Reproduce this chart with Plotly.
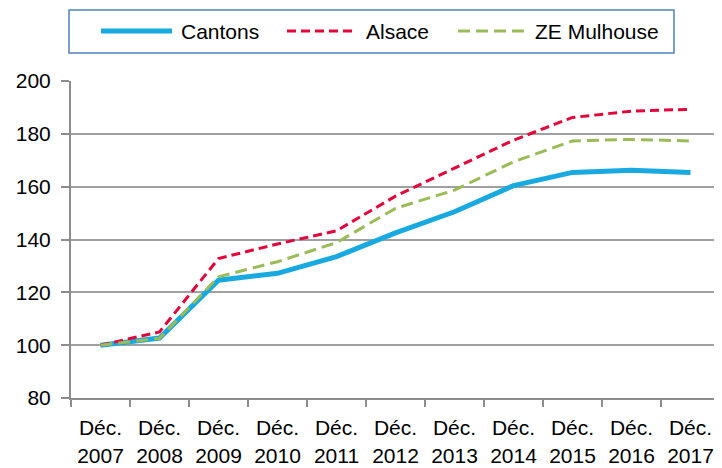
import plotly.graph_objects as go

categories = ["Déc.<br>2007", "Déc.<br>2008", "Déc.<br>2009", "Déc.<br>2010", "Déc.<br>2011",
              "Déc.<br>2012", "Déc.<br>2013", "Déc.<br>2014", "Déc.<br>2015", "Déc.<br>2016",
              "Déc.<br>2017"]
cantons = [100, 102.7, 124.6, 127.2, 133.5, 142.5, 150.5, 160.4, 165.4, 166.2, 165.4]
alsace = [100, 105.0, 132.8, 138.3, 143.3, 156.4, 167.0, 177.6, 186.2, 188.6, 189.3]
ze_mulhouse = [100, 102.6, 125.9, 131.6, 138.8, 151.8, 158.7, 169.4, 177.3, 177.9, 177.3]
y_ticks = [80, 100, 120, 140, 160, 180, 200]

names = ["Cantons", "Alsace", "ZE Mulhouse"]
colors = ["#17A9E0", "#E2063B", "#9BBB59"]
widths = [5, 3, 3]
dashes = ["solid", "9px,5px", "12px,6px"]
series = [cantons, alsace, ze_mulhouse]

FONT = "Liberation Sans"
OFF = 8  # default page body margin
W, H = 722 - OFF, 468 - OFF
# plot area in page pixels: x 71..720, y 81..398
PL, PR, PT, PB = 71, 720, 81, 398
L, T = PL - OFF, PT - OFF
R = W - (PR - OFF)
B = H - (PB - OFF)
PW, PH = PR - PL, PB - PT

def px(x):
    return (x - PL) / PW

def py(y):
    return (PB - y) / PH

fig = go.Figure()
for name, vals, c, w, d in zip(names, series, colors, widths, dashes):
    fig.add_trace(go.Scatter(
        x=categories, y=vals, mode="lines", name=name,
        line=dict(color=c, width=w, dash=d),
        showlegend=False,
    ))

# custom legend
shapes = [dict(type="rect", xref="paper", yref="paper",
               x0=px(69), x1=px(674), y0=py(53), y1=py(10),
               line=dict(color="#4F81BD", width=1.5), fillcolor="white")]
annotations = []
leg_lines = [(101, 172), (287, 356), (458, 525)]
leg_text_x = [179, 364, 533]
for (a, b), tx, name, c, w, d in zip(leg_lines, leg_text_x, names, colors, widths, dashes):
    shapes.append(dict(type="line", xref="paper", yref="paper",
                       x0=px(a), x1=px(b), y0=py(31), y1=py(31),
                       line=dict(color=c, width=w, dash=d)))
    annotations.append(dict(xref="paper", yref="paper", x=px(tx), y=py(31),
                            xanchor="left", yanchor="middle", showarrow=False,
                            text=name, font=dict(family=FONT, size=21, color="black")))

fig.update_layout(
    width=W, height=H,
    margin=dict(l=L, r=R, t=T, b=B, autoexpand=False),
    paper_bgcolor="white", plot_bgcolor="white",
    shapes=shapes, annotations=annotations,
    font=dict(family=FONT, size=20, color="black"),
)
fig.update_xaxes(
    type="category", range=[-0.5, 10.5], tickson="boundaries", automargin=False,
    showgrid=False, showline=True, linecolor="#8C8C8C", linewidth=2,
    ticks="outside", ticklen=7, tickcolor="#8C8C8C", tickwidth=1.5,
    ticklabelstandoff=10, tickangle=0,
    tickfont=dict(family=FONT, size=21, color="black"),
)
fig.update_yaxes(
    range=[80, 200], tickvals=y_ticks, showgrid=True, gridcolor="#A0A0A0", gridwidth=1.5,
    showline=True, linecolor="#8C8C8C", linewidth=2, zeroline=False, automargin=False,
    ticks="outside", ticklen=8, tickcolor="#8C8C8C", tickwidth=1.5,
    ticklabelstandoff=6,
    tickfont=dict(family=FONT, size=21, color="black"),
)
fig.write_html("out.html")
